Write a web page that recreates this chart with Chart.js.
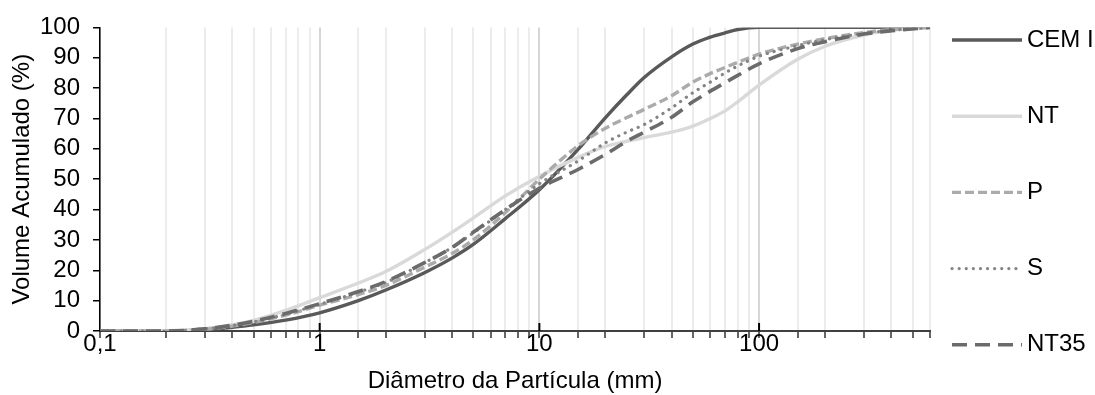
<!DOCTYPE html>
<html>
<head>
<meta charset="utf-8">
<script src="https://cdn.jsdelivr.net/npm/chart.js@4/dist/chart.umd.min.js"></script>
<style>
  html, body { margin:0; padding:0; background:#fff; }
  #wrap { width:1095px; height:395px; position:relative; }
</style>
</head>
<body>
<div id="wrap"><canvas id="c"></canvas></div>
<script>
// particle size distribution - cumulative volume vs diameter (log axis)
const diameters = [0.1, 0.2, 0.3, 0.4, 0.5, 0.7, 1, 1.5, 2, 3, 4, 5, 7, 10, 15, 20, 25, 30, 40, 50, 60, 70, 80, 100, 150, 200, 300, 400, 600];
const cemI = [0, 0, 0.4, 1.2, 2.0, 3.6, 6.0, 10, 13.5, 19.2, 24, 28.5, 37, 46.5, 59.8, 70.3, 77.8, 83.5, 90.3, 94.5, 96.8, 98.2, 99.3, 100, 100, 100, 100, 100, 100];
const nt   = [0, 0.1, 0.8, 2.0, 3.5, 6.8, 11, 15.8, 19.6, 26.8, 32.5, 37.2, 44.5, 51, 57.2, 60.8, 62.5, 63.7, 65.5, 67.5, 70, 72.5, 75.5, 81, 89.5, 93.8, 97.5, 99, 100];
const p    = [0, 0, 0.6, 1.6, 2.8, 5.2, 8.5, 12, 15, 21, 25.5, 30, 39, 50, 61, 66.8, 70.3, 73, 77.5, 82, 84.8, 86.8, 88.5, 91.2, 94.5, 96.3, 98.3, 99.3, 100];
const s    = [0, 0, 0.7, 1.8, 3.0, 5.5, 8.8, 12.8, 16, 22.5, 27.5, 32.3, 40, 48.5, 56, 62, 65.5, 68, 73.5, 78.5, 82, 85, 87.3, 90.5, 94, 96, 98, 99, 100];
const nt35 = [0, 0, 0.7, 1.9, 3.2, 5.8, 9, 13, 16.3, 22.5, 27.5, 32.5, 40, 47, 53.2, 58.2, 62.5, 65.5, 70.4, 75.5, 79, 81.8, 84.2, 88, 93, 95.3, 97.8, 98.9, 100];
const seriesNames = ['CEM I', 'NT', 'P', 'S', 'NT35'];
const yTicks = [0, 10, 20, 30, 40, 50, 60, 70, 80, 90, 100];

const FONT = '"Liberation Sans", Arial, sans-serif';
Chart.defaults.font.family = FONT;
Chart.defaults.font.size = 24;
Chart.defaults.color = '#000';

function isDecade(v){ const l = Math.log10(v); return Math.abs(l - Math.round(l)) < 1e-6; }
function pts(arr){ return diameters.map((d,i)=>({x:d, y:arr[i]})); }

const styles = [
  {borderColor:'#595959', borderWidth:3.4, borderDash:[], cap:'butt'},
  {borderColor:'#d9d9d9', borderWidth:3.4, borderDash:[], cap:'butt'},
  {borderColor:'#ababab', borderWidth:3.4, borderDash:[9,4], cap:'butt'},
  {borderColor:'#858585', borderWidth:3.2, borderDash:[0.1,7], cap:'round'},
  {borderColor:'#6b6b6b', borderWidth:3.6, borderDash:[15,8], cap:'butt'}
];
const allSeries = [cemI, nt, p, s, nt35];

// right side legend drawn next to the plot
const sideLegend = {
  id:'sideLegend',
  afterDraw(chart){
    const ctx = chart.ctx;
    const x0 = chart.chartArea.right + 22;
    chart.data.datasets.forEach((ds,i)=>{
      const y = 40 + i*76.2;
      ctx.save();
      ctx.strokeStyle = ds.borderColor; ctx.lineWidth = ds.borderWidth;
      ctx.lineCap = ds.borderCapStyle || 'butt';
      ctx.setLineDash(ds.borderDash || []);
      ctx.beginPath(); ctx.moveTo(x0, y); ctx.lineTo(x0+70, y); ctx.stroke();
      ctx.setLineDash([]);
      ctx.fillStyle = '#000'; ctx.font = '24px ' + FONT; ctx.textBaseline = 'middle';
      ctx.fillText(ds.label, x0+75, y);
      ctx.restore();
    });
  }
};

// major ticks cross the x axis (go up a bit too)
const majorTicks = {
  id:'majorTicks',
  afterDraw(chart){
    const sx = chart.scales.x, ctx = chart.ctx, yb = chart.chartArea.bottom;
    ctx.save(); ctx.strokeStyle = '#000'; ctx.lineWidth = 2;
    sx.ticks.forEach(t=>{
      if (!isDecade(t.value) || t.value <= sx.min) return;
      const px = sx.getPixelForValue(t.value);
      ctx.beginPath(); ctx.moveTo(px, yb-8); ctx.lineTo(px, yb); ctx.stroke();
    });
    ctx.restore();
  }
};

new Chart(document.getElementById('c'), {
  type:'line',
  data:{
    datasets: allSeries.map((arr,i)=>({
      label: seriesNames[i],
      data: pts(arr),
      borderColor: styles[i].borderColor,
      borderWidth: styles[i].borderWidth,
      borderDash: styles[i].borderDash,
      borderCapStyle: styles[i].cap,
      pointRadius: 0,
      fill: false,
      cubicInterpolationMode: 'monotone',
      order: 5 - i
    }))
  },
  options:{
    responsive:true, maintainAspectRatio:false, animation:false,
    layout:{ padding:{ left:0, top:24, right:165, bottom:0 } },
    plugins:{ legend:{ display:false }, tooltip:{ enabled:false } },
    scales:{
      x:{
        type:'logarithmic', min:0.1, max:600,
        afterFit(scale){ scale.height = 64; },
        border:{ color:'#404040', width:2 },
        grid:{
          color:(c)=> (c.tick && isDecade(c.tick.value)) ? '#d6d6d6' : '#ececec',
          lineWidth:2, tickLength:7, tickColor:'#333', tickWidth:1.5
        },
        ticks:{
          autoSkip:false, maxRotation:0, padding:-8, color:'#000',
          callback:(v)=> isDecade(v) ? String(Number(v.toPrecision(6))).replace('.', ',') : ''
        },
        title:{ display:true, text:'Diâmetro da Partícula (mm)', color:'#000', padding:{top:0, bottom:-1} }
      },
      y:{
        min:0, max:100,
        afterFit(scale){ scale.width = 100; },
        afterBuildTicks(scale){ scale.ticks = yTicks.map(v=>({value:v})); },
        border:{ color:'#000', width:1.5 },
        grid:{ drawOnChartArea:false, tickLength:7, tickColor:'#000', lineWidth:1.5 },
        ticks:{ padding:13, color:'#000', autoSkip:false },
        title:{ display:true, text:'Volume Acumulado (%)', color:'#000', padding:{top:8, bottom:0} }
      }
    }
  },
  plugins:[sideLegend, majorTicks]
});
</script>
</body>
</html>
